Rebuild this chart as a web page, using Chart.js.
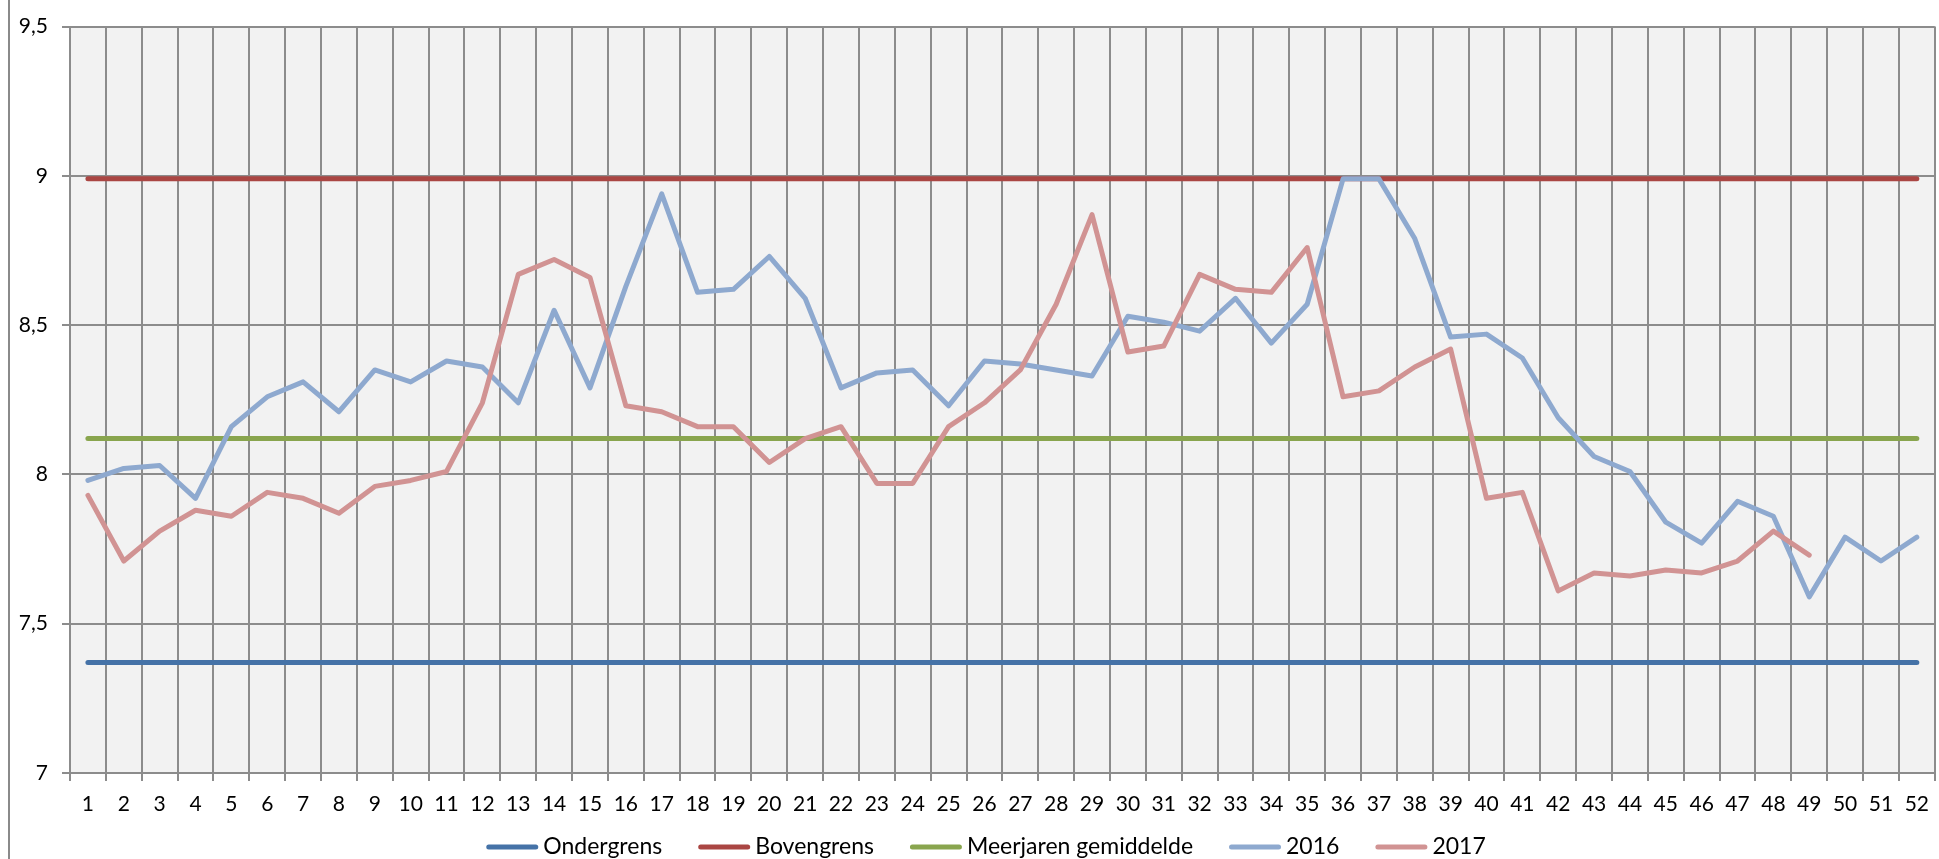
<!DOCTYPE html>
<html lang="nl">
<head>
<meta charset="utf-8">
<title>Weekgemiddelden 2016–2017</title>
<script src="https://cdn.jsdelivr.net/npm/chart.js@4.4.1/dist/chart.umd.min.js"></script>
<style>
  html, body { margin: 0; padding: 0; background: #fff; overflow: hidden; }
  #wrap { position: relative; width: 1940px; height: 859px; }
</style>
</head>
<body>
<div id="wrap"><canvas id="week-chart"></canvas></div>
<script>
/* ── Data ─────────────────────────────────────────────── */
const weeks = ['1','2','3','4','5','6','7','8','9','10','11','12','13','14','15','16','17','18','19','20',
  '21','22','23','24','25','26','27','28','29','30','31','32','33','34','35','36','37','38','39','40',
  '41','42','43','44','45','46','47','48','49','50','51','52'];

const ONDERGRENS = 7.37;
const BOVENGRENS = 8.99;
const GEMIDDELDE = 8.12;

const data2016 = [7.98, 8.02, 8.03, 7.92, 8.16, 8.26, 8.31, 8.21, 8.35, 8.31,
  8.38, 8.36, 8.24, 8.55, 8.29, 8.63, 8.94, 8.61, 8.62, 8.73,
  8.59, 8.29, 8.34, 8.35, 8.23, 8.38, 8.37, 8.35, 8.33, 8.53,
  8.51, 8.48, 8.59, 8.44, 8.57, 8.99, 8.99, 8.79, 8.46, 8.47,
  8.39, 8.19, 8.06, 8.01, 7.84, 7.77, 7.91, 7.86, 7.59, 7.79, 7.71, 7.79];

const data2017 = [7.93, 7.71, 7.81, 7.88, 7.86, 7.94, 7.92, 7.87, 7.96, 7.98,
  8.01, 8.24, 8.67, 8.72, 8.66, 8.23, 8.21, 8.16, 8.16, 8.04,
  8.12, 8.16, 7.97, 7.97, 8.16, 8.24, 8.35, 8.57, 8.87, 8.41,
  8.43, 8.67, 8.62, 8.61, 8.76, 8.26, 8.28, 8.36, 8.42, 7.92,
  7.94, 7.61, 7.67, 7.66, 7.68, 7.67, 7.71, 7.81, 7.73];

const Y_MIN = 7, Y_MAX = 9.5, Y_STEP = 0.5;

const GRID = '#8c8c8c';
const FONT = 'Lato, "Noto Sans", sans-serif';

// legend row: line sample length, gap to text, gap between items
const LEG = { cx: 986, y: 847, line: 52, gap: 5, space: 36, size: 23 };

/* ── Helpers ──────────────────────────────────────────── */
const flat = v => weeks.map(() => v);

function line(label, data, color, order) {
  return {
    label, data, order,
    borderColor: color, backgroundColor: color,
    borderWidth: 5, borderCapStyle: 'round', borderJoinStyle: 'round',
    pointRadius: 0, pointHoverRadius: 0, tension: 0, fill: false,
  };
}

// plot background + outer frame line on the left
const plotBg = {
  id: 'plotBg',
  beforeDraw(chart) {
    const { ctx, chartArea: a } = chart;
    ctx.save();
    ctx.fillStyle = '#f2f2f2';
    ctx.fillRect(a.left, a.top, a.right - a.left, a.bottom - a.top);
    ctx.strokeStyle = '#8a8a8a';
    ctx.lineWidth = 2;
    ctx.beginPath();
    ctx.moveTo(9, 0);
    ctx.lineTo(9, chart.height);
    ctx.stroke();
    ctx.restore();
  },
};

// one-row legend under the axis, in dataset order
const legendRow = {
  id: 'legendRow',
  afterDraw(chart) {
    const { ctx } = chart;
    const sets = chart.data.datasets;
    ctx.save();
    ctx.font = `${LEG.size}px ${FONT}`;
    ctx.textBaseline = 'middle';
    const widths = sets.map(d => LEG.line + LEG.gap + ctx.measureText(d.label).width);
    const total = widths.reduce((a, b) => a + b, 0) + LEG.space * (sets.length - 1);
    let x = LEG.cx - total / 2;
    sets.forEach((d, i) => {
      ctx.strokeStyle = d.borderColor;
      ctx.lineWidth = 5;
      ctx.lineCap = 'round';
      ctx.beginPath();
      ctx.moveTo(x + 2.5, LEG.y);
      ctx.lineTo(x + LEG.line - 2.5, LEG.y);
      ctx.stroke();
      ctx.fillStyle = '#000';
      ctx.fillText(d.label, x + LEG.line + LEG.gap, LEG.y);
      x += widths[i] + LEG.space;
    });
    ctx.restore();
  },
};

Chart.defaults.font.family = FONT;
Chart.defaults.font.size = 21;
Chart.defaults.color = '#000';

new Chart(document.getElementById('week-chart'), {
  type: 'line',
  data: {
    labels: weeks,
    datasets: [
      line('Ondergrens', flat(ONDERGRENS), '#4572a7', 5),
      line('Bovengrens', flat(BOVENGRENS), '#aa4643', 4),
      line('Meerjaren gemiddelde', flat(GEMIDDELDE), '#89a54e', 3),
      line('2016', data2016, '#8ea9cf', 2),
      line('2017', data2017, '#d19393', 1),
    ],
  },
  options: {
    responsive: true, maintainAspectRatio: false, animation: false,
    layout: { padding: { top: 23, left: 0, right: 0, bottom: 0 } },
    plugins: {
      tooltip: { enabled: false },
      legend: { display: false },
    },
    scales: {
      x: {
        offset: true,
        grid: { offset: true, color: GRID, lineWidth: 2, tickLength: 8, drawTicks: true },
        border: { color: GRID, width: 2 },
        ticks: { autoSkip: false, maxRotation: 0, padding: 11 },
        afterFit: s => { s.height = 86; },
      },
      y: {
        min: Y_MIN, max: Y_MAX,
        grid: { color: GRID, lineWidth: 2, tickLength: 8 },
        border: { color: GRID, width: 2 },
        ticks: { stepSize: Y_STEP, padding: 14, callback: v => String(v).replace('.', ',') },
        afterFit: s => { s.width = 70; },
      },
    },
  },
  plugins: [plotBg, legendRow],
});
</script>
</body>
</html>
